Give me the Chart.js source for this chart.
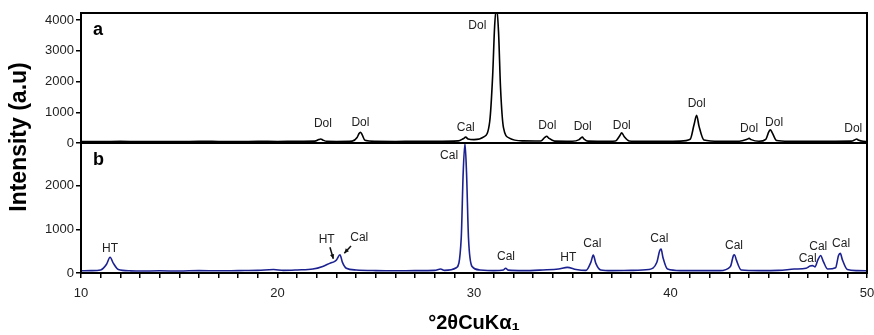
<!DOCTYPE html>
<html>
<head>
<meta charset="utf-8">
<script src="https://cdn.jsdelivr.net/npm/chart.js@4/dist/chart.umd.min.js"></script>
<style>
  html, body { margin: 0; padding: 0; background: #fff; }
  canvas { display: block; }
</style>
</head>
<body>
<canvas id="xrd" width="874" height="335"></canvas>
<script>
// pattern a (dolomite sample)
const aTheta = [10, 11, 12, 13, 14, 15, 16, 17, 18, 19, 20, 21, 21.9, 22.1, 22.2, 22.3, 22.5, 23, 23.8, 24.05, 24.15, 24.22, 24.3, 24.45, 25, 26, 27, 28, 29.2, 29.45, 29.58, 29.7, 30, 30.5, 30.8, 30.95, 31.05, 31.15, 31.25, 31.35, 31.5, 31.8, 32.5, 33.4, 33.6, 33.7, 33.8, 34.1, 35, 35.35, 35.45, 35.51, 35.6, 35.8, 36.5, 37.2, 37.4, 37.52, 37.65, 37.9, 38.5, 39.5, 40.5, 41.0, 41.2, 41.33, 41.45, 41.7, 42.5, 43.5, 43.9, 44.0, 44.1, 44.5, 44.85, 45.0, 45.08, 45.18, 45.4, 46, 47, 48, 49.2, 49.4, 49.47, 49.55, 49.8, 50];
const aCounts = [50, 45, 55, 45, 50, 45, 55, 50, 45, 55, 50, 55, 60, 110, 130, 100, 55, 50, 60, 180, 310, 350, 280, 90, 55, 50, 55, 55, 70, 140, 190, 130, 110, 200, 700, 2200, 3800, 4400, 3600, 1800, 500, 160, 70, 65, 180, 220, 160, 60, 55, 110, 170, 190, 130, 60, 55, 65, 220, 330, 200, 65, 55, 55, 60, 120, 600, 900, 550, 100, 55, 55, 120, 150, 110, 55, 120, 360, 430, 330, 80, 55, 55, 55, 60, 110, 130, 100, 55, 50];

// pattern b (calcite + HT sample)
const bTheta = [10, 10.5, 11, 11.3, 11.48, 11.65, 11.9, 12.5, 13, 14, 15, 16, 17, 18, 19, 19.8, 20.3, 21, 21.8, 22.3, 22.7, 22.89, 23.0, 23.18, 23.3, 23.5, 24, 25, 26, 27, 28, 28.3, 28.5, 29.1, 29.35, 29.45, 29.54, 29.62, 29.72, 29.9, 30.3, 31, 31.5, 31.61, 31.75, 32.5, 33.5, 34.3, 34.75, 35.2, 35.7, 35.95, 36.07, 36.2, 36.45, 37, 38, 38.9, 39.3, 39.45, 39.52, 39.62, 39.85, 40.5, 41.5, 42.5, 43.05, 43.2, 43.26, 43.35, 43.6, 44.5, 45.5, 46.3, 46.9, 47.1, 47.22, 47.35, 47.5, 47.64, 47.78, 48.0, 48.4, 48.55, 48.64, 48.75, 49.0, 49.5, 50];
const bCounts = [50, 55, 70, 200, 360, 220, 80, 50, 45, 50, 45, 55, 50, 55, 60, 80, 60, 70, 90, 150, 230, 260, 300, 420, 250, 110, 70, 55, 50, 55, 60, 90, 60, 120, 800, 2300, 2970, 2300, 800, 150, 70, 55, 70, 110, 65, 55, 70, 90, 130, 80, 60, 250, 410, 220, 70, 55, 60, 80, 240, 510, 550, 350, 90, 55, 55, 55, 150, 400, 420, 300, 70, 55, 60, 90, 110, 160, 170, 140, 300, 400, 260, 90, 120, 400, 450, 300, 80, 55, 50];

// peak labels
const aLabels = ['Dol', 'Dol', 'Cal', 'Dol', 'Dol', 'Dol', 'Dol', 'Dol', 'Dol', 'Dol', 'Dol'];
const aLabelTheta = [22.31, 24.22, 29.58, 30.17, 33.73, 35.53, 37.52, 41.33, 44.0, 45.27, 49.3];
const aLabelCounts = [630, 660, 490, 3830, 570, 540, 570, 1280, 460, 650, 480];

const bLabels = ['HT', 'HT', 'Cal', 'Cal', 'Cal', 'HT', 'Cal', 'Cal', 'Cal', 'Cal', 'Cal', 'Cal'];
const bLabelTheta = [11.48, 22.5, 24.16, 28.73, 31.63, 34.8, 36.02, 39.43, 43.23, 46.98, 47.52, 48.68];
const bLabelCounts = [550, 757, 818, 2690, 364, 340, 670, 785, 635, 325, 605, 665];

// arrows in b: [theta0, counts0, theta1, counts1]
const bArrows = [[22.67, 590, 22.84, 325], [23.74, 620, 23.4, 455]];

const xTicks = [10, 20, 30, 40, 50];
const aTicks = [0, 1000, 2000, 3000, 4000];
const bTicks = [0, 1000, 2000];

const toPts = (xs, ys) => xs.map((x, i) => ({ x: x, y: ys[i] }));

const frames = {
  id: 'frames',
  afterDatasetsDraw(chart) {
    const { ctx, chartArea, scales } = chart;
    ctx.save();
    ctx.fillStyle = '#222';
    ctx.font = '12px "Liberation Sans", Arial, sans-serif';
    ctx.textAlign = 'center';
    ctx.textBaseline = 'middle';
    aLabels.forEach((t, i) => {
      ctx.fillText(t, scales.x.getPixelForValue(aLabelTheta[i]), scales.ya.getPixelForValue(aLabelCounts[i]));
    });
    bLabels.forEach((t, i) => {
      ctx.fillText(t, scales.x.getPixelForValue(bLabelTheta[i]), scales.yb.getPixelForValue(bLabelCounts[i]));
    });

    ctx.strokeStyle = '#111';
    ctx.fillStyle = '#111';
    ctx.lineWidth = 1.5;
    bArrows.forEach(a => {
      const x0 = scales.x.getPixelForValue(a[0]), y0 = scales.yb.getPixelForValue(a[1]);
      const x1 = scales.x.getPixelForValue(a[2]), y1 = scales.yb.getPixelForValue(a[3]);
      ctx.beginPath();
      ctx.moveTo(x0, y0);
      ctx.lineTo(x1, y1);
      ctx.stroke();
      const ang = Math.atan2(y1 - y0, x1 - x0);
      ctx.beginPath();
      ctx.moveTo(x1, y1);
      ctx.lineTo(x1 - 5 * Math.cos(ang - 0.45), y1 - 5 * Math.sin(ang - 0.45));
      ctx.lineTo(x1 - 5 * Math.cos(ang + 0.45), y1 - 5 * Math.sin(ang + 0.45));
      ctx.closePath();
      ctx.fill();
    });

    // panel boxes
    ctx.strokeStyle = '#000';
    ctx.lineWidth = 2;
    [scales.ya, scales.yb].forEach(s => {
      ctx.strokeRect(chartArea.left, s.top, chartArea.right - chartArea.left, s.bottom - s.top);
    });

    ctx.fillStyle = '#000';
    ctx.font = 'bold 18px "Liberation Sans", Arial, sans-serif';
    ctx.textAlign = 'left';
    ctx.fillText('a', chartArea.left + 12, scales.ya.top + 17);
    ctx.fillText('b', chartArea.left + 12, scales.yb.top + 17);

    // shared y title
    ctx.font = 'bold 23px "Liberation Sans", Arial, sans-serif';
    ctx.textAlign = 'center';
    ctx.translate(20, 137);
    ctx.rotate(-Math.PI / 2);
    ctx.fillText('Intensity (a.u)', 0, 0);
    ctx.restore();
  }
};

const tickFont = { family: '"Liberation Sans", Arial, sans-serif', size: 13 };

const yAxis = (max, list) => ({
  type: 'linear', position: 'left', stack: 'xrd', stackWeight: 1, min: 0, max: max,
  border: { display: false },
  grid: { drawOnChartArea: false, tickLength: 5, color: '#000', lineWidth: 1.5 },
  ticks: { padding: 2, color: '#222', font: tickFont, callback: v => String(v) },
  afterBuildTicks: s => { s.ticks = list.map(v => ({ value: v })); },
  afterFit: s => { s.width = 81; s.paddingTop = 0; s.paddingBottom = 0; }
});

new Chart(document.getElementById('xrd'), {
  type: 'line',
  data: {
    datasets: [
      { label: 'a', data: toPts(aTheta, aCounts), yAxisID: 'ya', borderColor: '#000', borderWidth: 1.6, pointRadius: 0, cubicInterpolationMode: 'monotone' },
      { label: 'b', data: toPts(bTheta, bCounts), yAxisID: 'yb', borderColor: '#1c2190', borderWidth: 1.6, pointRadius: 0, cubicInterpolationMode: 'monotone' }
    ]
  },
  options: {
    responsive: false,
    animation: false,
    events: [],
    layout: { padding: { left: 0, right: 7, top: 13, bottom: 0 } },
    plugins: { legend: { display: false }, tooltip: { enabled: false } },
    scales: {
      x: {
        type: 'linear', min: 10, max: 50,
        border: { display: false },
        grid: { drawOnChartArea: false, drawTicks: true, tickLength: 5, color: '#000', lineWidth: 1.5 },
        ticks: {
          stepSize: 1, autoSkip: false, maxRotation: 0, padding: 8, color: '#222', font: tickFont,
          callback: v => xTicks.includes(v) ? String(v) : ''
        },
        title: { display: true, text: '°2θCuKα₁', color: '#000', font: { family: '"Liberation Sans", Arial, sans-serif', size: 20, weight: 'bold' }, padding: { top: 4, bottom: 0 } },
        afterFit: s => { s.height = 62; s.paddingLeft = 0; s.paddingRight = 0; }
      },
      yb: yAxis(2980, bTicks),
      ya: yAxis(4230, aTicks)
    }
  },
  plugins: [frames]
});
</script>
</body>
</html>
